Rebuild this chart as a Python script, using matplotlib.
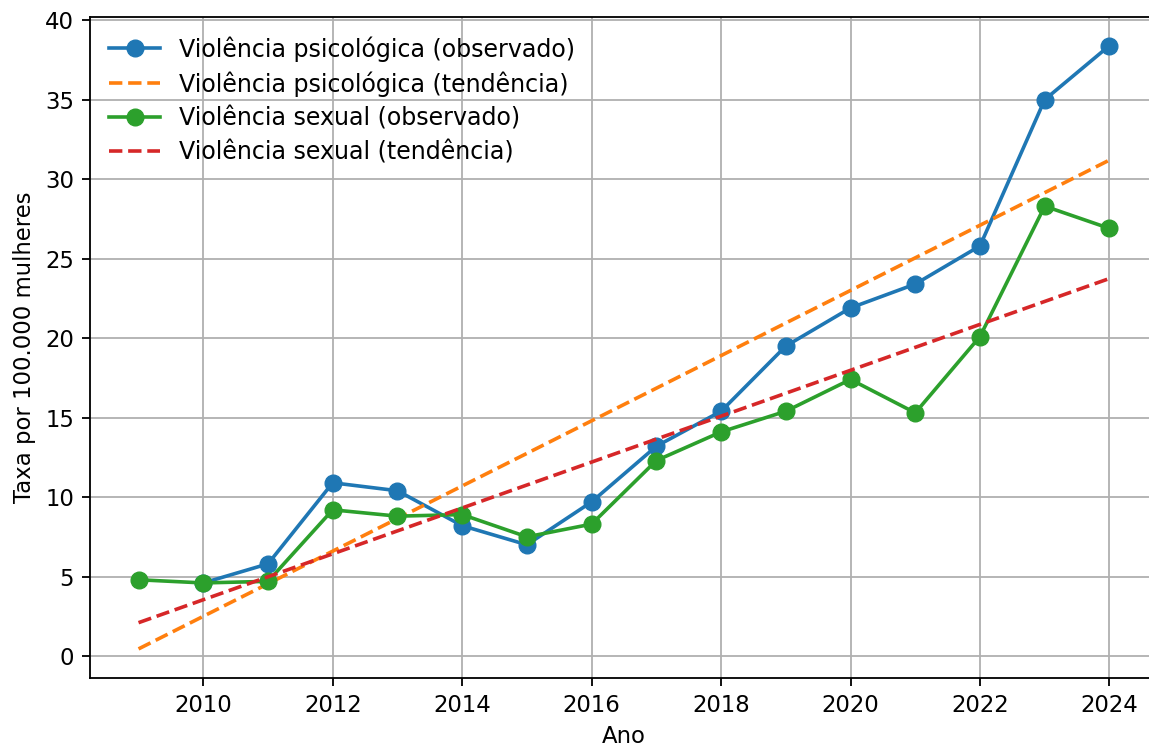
import numpy as np
import matplotlib
matplotlib.use("Agg")
import matplotlib.pyplot as plt

anos = [2009, 2010, 2011, 2012, 2013, 2014, 2015, 2016, 2017, 2018, 2019, 2020, 2021, 2022, 2023, 2024]
anos_psico = anos[1:]
psico_obs = [4.6, 5.8, 10.9, 10.4, 8.2, 7.0, 9.7, 13.2, 15.4, 19.5, 21.9, 23.4, 25.8, 35.0, 38.4]
sexual_obs = [4.8, 4.6, 4.7, 9.2, 8.8, 8.9, 7.5, 8.3, 12.3, 14.1, 15.4, 17.4, 15.3, 20.1, 28.3, 26.9]
trend_anos = [2009, 2024]
psico_trend = [0.45, 31.2]
sexual_trend = [2.1, 23.75]

s = 1.64
plt.rcParams.update({
    "font.size": 10 * s,
    "lines.linewidth": 2.6,
    "lines.markersize": 12.0,
    "axes.linewidth": 0.8 * s,
    "grid.linewidth": 0.8 * s,
    "xtick.major.width": 0.8 * s,
    "ytick.major.width": 0.8 * s,
    "xtick.major.size": 3.5 * s,
    "ytick.major.size": 3.5 * s,
    "xtick.major.pad": 3.5 * s,
    "ytick.major.pad": 3.5 * s,
    "axes.labelpad": 4 * s,
})

fig = plt.figure(figsize=(11.49, 7.46), dpi=100)
ax = fig.add_axes([90 / 1149, 1 - 678 / 746, (1158 - 90) / 1149, (678 - 17) / 746])

ax.plot(anos_psico, psico_obs, marker="o", color="#1f77b4", label="Violência psicológica (observado)")
ax.plot(trend_anos, psico_trend, linestyle="--", color="#ff7f0e", label="Violência psicológica (tendência)")
ax.plot(anos, sexual_obs, marker="o", color="#2ca02c", label="Violência sexual (observado)")
ax.plot(trend_anos, sexual_trend, linestyle="--", color="#d62728", label="Violência sexual (tendência)")

ax.set_xlim(2008.25, 2024.75)
ax.set_ylim(-1.38, 40.2)
ax.set_xticks(range(2010, 2025, 2))
ax.set_yticks(range(0, 41, 5))
ax.set_xlabel("Ano", labelpad=3.5 * s)
ax.set_ylabel("Taxa por 100.000 mulheres")
ax.grid(True)
ax.legend(loc="upper left", frameon=False, fontsize=17.1, handlelength=2.15,
          borderaxespad=0.4, labelspacing=0.41)

fig.savefig("out.png", dpi=100)
